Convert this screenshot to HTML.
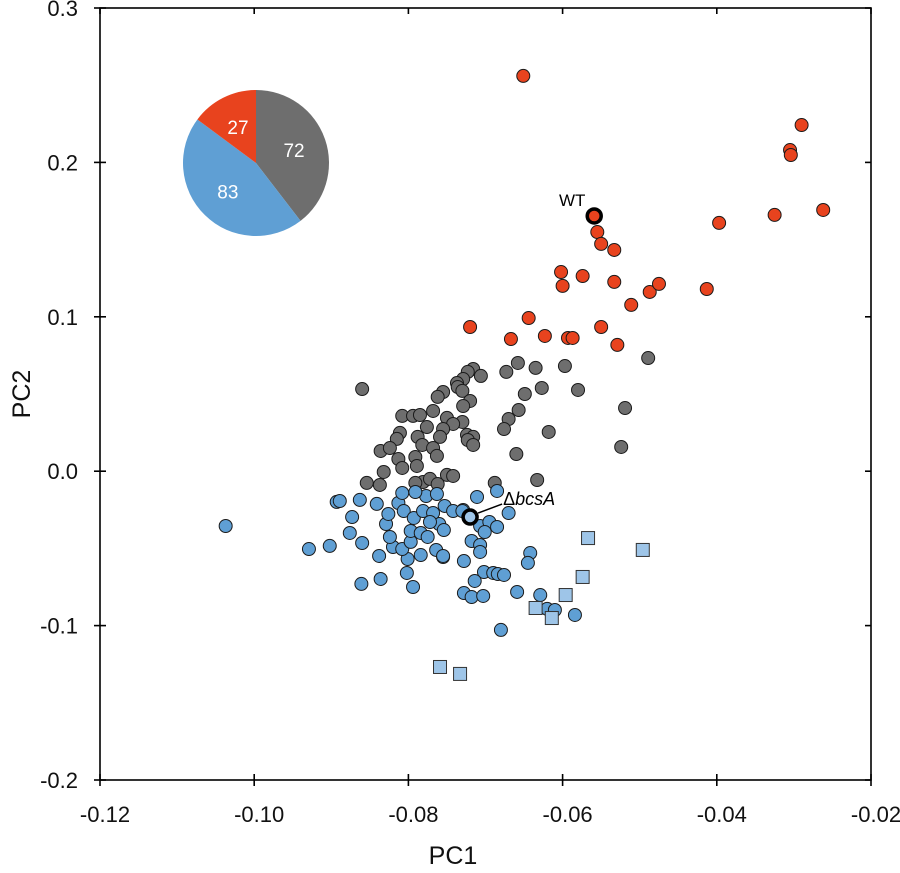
<!DOCTYPE html>
<html><head><meta charset="utf-8"><style>
body{margin:0;background:#fff}
svg text{font-family:"Liberation Sans",Arial,sans-serif}
</style></head><body>
<svg id="chart" width="900" height="868" xmlns="http://www.w3.org/2000/svg">
<g id="marks"></g>
<g id="axes"></g>
<g id="pie"></g>
</svg>
<script>
const xTicks=[-0.12,-0.10,-0.08,-0.06,-0.04,-0.02];
const xTickLabels=["-0.12","-0.10","-0.08","-0.06","-0.04","-0.02"];
const yTicks=[-0.2,-0.1,0.0,0.1,0.2,0.3];
const yTickLabels=["-0.2","-0.1","0.0","0.1","0.2","0.3"];
const redX=[-0.0651,-0.0290,-0.0305,-0.0304,-0.0397,-0.0325,-0.0262,-0.0555,-0.0550,-0.0533,-0.0602,-0.0600,-0.0574,-0.0533,-0.0511,-0.0487,-0.0475,-0.0413,-0.0550,-0.0644,-0.0623,-0.0667,-0.0720,-0.0593,-0.0587,-0.0529];
const redY=[0.2560,0.2242,0.2080,0.2048,0.1608,0.1660,0.1692,0.1549,0.1472,0.1433,0.1290,0.1200,0.1264,0.1226,0.1077,0.1161,0.1213,0.1180,0.0934,0.0992,0.0876,0.0856,0.0934,0.0863,0.0863,0.0818];
const grayX=[-0.0860,-0.0716,-0.0723,-0.0706,-0.0729,-0.0737,-0.0736,-0.0730,-0.0755,-0.0762,-0.0720,-0.0729,-0.0768,-0.0808,-0.0794,-0.0785,-0.0750,-0.0730,-0.0742,-0.0755,-0.0776,-0.0811,-0.0788,-0.0759,-0.0724,-0.0716,-0.0723,-0.0815,-0.0716,-0.0782,-0.0768,-0.0836,-0.0824,-0.0763,-0.0791,-0.0813,-0.0789,-0.0808,-0.0832,-0.0854,-0.0837,-0.0750,-0.0742,-0.0781,-0.0772,-0.0762,-0.0791,-0.0688,-0.0658,-0.0673,-0.0635,-0.0649,-0.0627,-0.0657,-0.0670,-0.0676,-0.0618,-0.0660,-0.0633,-0.0597,-0.0580,-0.0519,-0.0524,-0.0489];
const grayY=[0.0532,0.0662,0.0643,0.0617,0.0597,0.0571,0.0545,0.0520,0.0513,0.0481,0.0455,0.0422,0.0390,0.0358,0.0358,0.0364,0.0345,0.0319,0.0306,0.0273,0.0286,0.0248,0.0222,0.0222,0.0235,0.0222,0.0202,0.0209,0.0170,0.0170,0.0150,0.0131,0.0150,0.0099,0.0092,0.0079,0.0034,0.0021,-0.0005,-0.0076,-0.0089,-0.0024,-0.0031,-0.0070,-0.0050,-0.0083,-0.0076,-0.0076,0.0701,0.0643,0.0669,0.0500,0.0539,0.0396,0.0338,0.0273,0.0254,0.0111,-0.0057,0.0681,0.0526,0.0409,0.0157,0.0733];
const blueX=[-0.1037,-0.0893,-0.0889,-0.0863,-0.0841,-0.0873,-0.0876,-0.0860,-0.0929,-0.0902,-0.0838,-0.0861,-0.0836,-0.0794,-0.0802,-0.0801,-0.0784,-0.0820,-0.0808,-0.0824,-0.0797,-0.0829,-0.0826,-0.0813,-0.0806,-0.0808,-0.0793,-0.0797,-0.0784,-0.0775,-0.0764,-0.0755,-0.0760,-0.0754,-0.0781,-0.0777,-0.0768,-0.0753,-0.0742,-0.0791,-0.0763,-0.0729,-0.0711,-0.0685,-0.0670,-0.0730,-0.0707,-0.0695,-0.0685,-0.0701,-0.0718,-0.0707,-0.0707,-0.0728,-0.0755,-0.0642,-0.0645,-0.0702,-0.0690,-0.0684,-0.0676,-0.0714,-0.0728,-0.0718,-0.0703,-0.0659,-0.0629,-0.0620,-0.0610,-0.0584,-0.0680,-0.0772];
const blueY=[-0.0355,-0.0199,-0.0193,-0.0186,-0.0212,-0.0297,-0.0400,-0.0465,-0.0504,-0.0484,-0.0549,-0.0730,-0.0698,-0.0750,-0.0659,-0.0569,-0.0543,-0.0491,-0.0504,-0.0426,-0.0458,-0.0342,-0.0277,-0.0206,-0.0258,-0.0141,-0.0303,-0.0387,-0.0400,-0.0426,-0.0510,-0.0556,-0.0342,-0.0381,-0.0258,-0.0161,-0.0271,-0.0225,-0.0258,-0.0135,-0.0148,-0.0251,-0.0167,-0.0128,-0.0271,-0.0258,-0.0355,-0.0329,-0.0361,-0.0394,-0.0452,-0.0478,-0.0523,-0.0582,-0.0549,-0.0530,-0.0594,-0.0653,-0.0659,-0.0666,-0.0672,-0.0711,-0.0789,-0.0815,-0.0808,-0.0782,-0.0802,-0.0892,-0.0899,-0.0931,-0.1028,-0.0329];
const squareX=[-0.0567,-0.0496,-0.0574,-0.0596,-0.0635,-0.0614,-0.0759,-0.0733];
const squareY=[-0.0433,-0.0510,-0.0685,-0.0802,-0.0886,-0.0951,-0.1268,-0.1313];
const wtPoint=[-0.0559,0.1653];
const bcsPoint=[-0.0720,-0.0297];
const pieValues=[72,83,27];
const pieLabels=["72","83","27"];
const pieColors=["#6e6e6e","#5f9fd4","#e8431e"];

const X0=100,X1=871,Y0=780,Y1=8;
const xs=v=>X0+(v-(-0.12))/0.10*(X1-X0);
const ys=v=>Y0-(v-(-0.2))/0.5*(Y0-Y1);
const NS="http://www.w3.org/2000/svg";
function mk(tag,attrs,parent){const e=document.createElementNS(NS,tag);for(const k in attrs)e.setAttribute(k,attrs[k]);parent.appendChild(e);return e;}
const marks=document.getElementById('marks'),axes=document.getElementById('axes'),pie=document.getElementById('pie');

function dots(X,Y,fill,name){for(let i=0;i<X.length;i++){const c=mk('circle',{cx:xs(X[i]),cy:ys(Y[i]),r:6.5,fill:fill,stroke:'#1a1a1a','stroke-width':1},marks);

}}
dots(grayX,grayY,'#6e6e6e','gray-point');
dots(blueX,blueY,'#5f9fd4','blue-point');
dots(redX,redY,'#e8431e','red-point');
for(let i=0;i<squareX.length;i++){const s=mk('rect',{x:xs(squareX[i])-6.5,y:ys(squareY[i])-6.5,width:13,height:13,fill:'#9ec5e8',stroke:'#333','stroke-width':1},marks);

}
let w=mk('circle',{cx:xs(wtPoint[0]),cy:ys(wtPoint[1]),r:7,fill:'#e8431e',stroke:'#000','stroke-width':3.5},marks);


let wl=mk('text',{x:xs(wtPoint[0])-22,y:ys(wtPoint[1])-10,'font-size':17,'text-anchor':'middle',fill:'#000'},marks);wl.textContent='WT';


let bl=mk('line',{x1:xs(bcsPoint[0])+8,y1:ys(bcsPoint[1])-4,x2:xs(bcsPoint[0])+32,y2:ys(bcsPoint[1])-13,stroke:'#000','stroke-width':1.5},marks);


let b=mk('circle',{cx:xs(bcsPoint[0]),cy:ys(bcsPoint[1]),r:7,fill:'#9ec5e8',stroke:'#000','stroke-width':3.5},marks);


let bt=mk('text',{x:xs(bcsPoint[0])+33,y:ys(bcsPoint[1])-12,'font-size':18,fill:'#000'},marks);
bt.innerHTML='Δ<tspan font-style="italic">bcsA</tspan>';



let box=mk('rect',{x:X0,y:Y1,width:X1-X0,height:Y0-Y1,fill:'none',stroke:'#000','stroke-width':1.6},axes);


xTicks.forEach((t,i)=>{const x=xs(t);
mk('line',{x1:x,y1:Y0-6,x2:x,y2:Y0+6,stroke:'#000','stroke-width':1.6},axes);
mk('line',{x1:x,y1:Y1,x2:x,y2:Y1+6,stroke:'#000','stroke-width':1.6},axes);
const tx=mk('text',{x:x+5,y:Y0+42,'font-size':22,'text-anchor':'middle',fill:'#111'},axes);tx.textContent=xTickLabels[i];

});
yTicks.forEach((t,i)=>{const y=ys(t);
mk('line',{x1:X0-6,y1:y,x2:X0+6,y2:y,stroke:'#000','stroke-width':1.6},axes);
mk('line',{x1:X1-6,y1:y,x2:X1,y2:y,stroke:'#000','stroke-width':1.6},axes);
const ty=mk('text',{x:X0-22,y:y+8,'font-size':22,'text-anchor':'end',fill:'#111'},axes);ty.textContent=yTickLabels[i];

});
let xt=mk('text',{x:453,y:864,'font-size':25,'text-anchor':'middle',fill:'#111'},axes);xt.textContent='PC1';


let yt=mk('text',{x:0,y:0,'font-size':25,'text-anchor':'middle',fill:'#111',transform:'translate(30,394) rotate(-90)'},axes);yt.textContent='PC2';



const cx=256,cy=163,R=73;const tot=pieValues.reduce((a,b)=>a+b,0);let a0=0;
pieValues.forEach((v,i)=>{const a1=a0+v/tot*2*Math.PI;
const p=(a)=>[cx+R*Math.sin(a),cy-R*Math.cos(a)];const [x0,y0]=p(a0),[x1,y1]=p(a1);
const sl=mk('path',{d:`M${cx},${cy}L${x0},${y0}A${R},${R} 0 ${a1-a0>Math.PI?1:0} 1 ${x1},${y1}Z`,fill:pieColors[i]},pie);


const am=(a0+a1)/2,lr=R*0.55;
const lt=mk('text',{x:cx+lr*Math.sin(am),y:cy-lr*Math.cos(am)+7,'font-size':19,'text-anchor':'middle',fill:'#fff'},pie);lt.textContent=pieLabels[i];


a0=a1;});
</script>
</body></html>
